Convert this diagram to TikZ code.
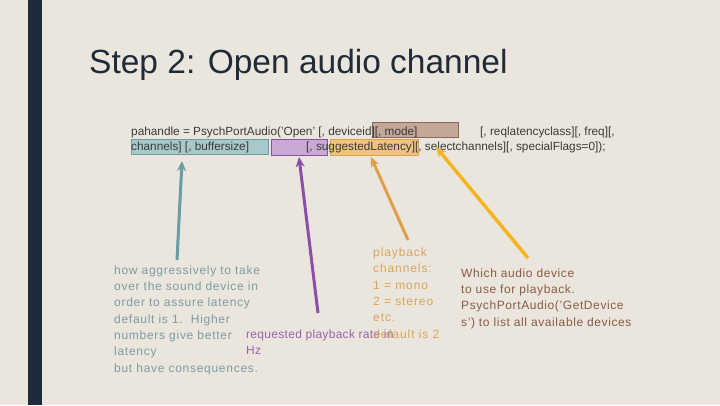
\documentclass[tikz,border=0pt]{standalone}
\usepackage{fontspec}
\setmainfont{Liberation Sans}
\usetikzlibrary{arrows.meta}

\definecolor{slidebg}{HTML}{EAE6DE}
\definecolor{sidebar}{HTML}{1D2B3A}
\definecolor{titleink}{HTML}{1F2B38}
\definecolor{codeink}{HTML}{3A3A3A}
\definecolor{tealfill}{HTML}{A8C8CA}
\definecolor{tealline}{HTML}{6B9CA3}
\definecolor{tealink}{HTML}{7D9C9E}
\definecolor{purpfill}{HTML}{C8AAD4}
\definecolor{purpline}{HTML}{8C4FA8}
\definecolor{purpink}{HTML}{9B62A8}
\definecolor{orngfill}{HTML}{F2C27F}
\definecolor{orngline}{HTML}{E0A048}
\definecolor{orngink}{HTML}{D9A45A}
\definecolor{brwnfill}{HTML}{C3A797}
\definecolor{brwnline}{HTML}{8C6858}
\definecolor{brwnink}{HTML}{8A5A45}
\definecolor{yellarrow}{HTML}{F4B521}

\begin{document}
\begin{tikzpicture}[x=1pt,y=-1pt,
    note/.style={anchor=base west, inner sep=0pt, align=left,
        font=\fontsize{12}{16.3}\selectfont\addfontfeature{LetterSpace=#1}},
    note/.default=6,
    code/.style={anchor=base west, inner sep=0pt, text=codeink,
        font=\fontsize{11.8}{15}\selectfont},
    hl/.style={draw=#1line, fill=#1fill, line width=0.8pt},
    pointer/.style={draw=#1, line width=3pt, -{Stealth[length=10pt,width=9pt]}}]
    \useasboundingbox[fill=slidebg] (0,0) rectangle (720,405);
    \fill[sidebar] (28,0) rectangle (42,405);

    \node[anchor=base west, inner sep=0pt, text=titleink,
        font=\fontsize{33.5}{40}\selectfont] (title) at (89,73) {Step 2: Open audio channel};

    % highlighted arguments
    \draw[hl=teal] (131,139) rectangle (268,154);
    \draw[hl=purp] (271,139) rectangle (327,155);
    \draw[hl=orng] (330,139) rectangle (418,155);
    \draw[hl=brwn] (372,122) rectangle (458,137);

    \node[code] (callA) at (131,135.5) {pahandle = PsychPortAudio('Open' [, deviceid][, mode]};
    \node[code] (callB) at (480,135.5) {[, reqlatencyclass][, freq][,};
    \node[code] (callC) at (131,150.5) {channels] [, buffersize]};
    \node[code] (callD) at (306,150.5) {[, suggestedLatency][, selectchannels][, specialFlags=0]);};

    % notes (anchored on the last line)
    \node[note, text=tealink] (latnote) at (114,372) {how aggressively to take\\over the sound device in\\order to assure latency\\default is 1.~~Higher\\numbers give better\\latency\\but have consequences.};
    \node[note=2.5, text=purpink] (freqnote) at (246,354.5) {requested playback rate in\\Hz};
    \node[note=7.5, text=orngink] (channote) at (373,338) {playback\\channels:\\1 = mono\\2 = stereo\\etc.\\default is 2};
    \node[note=5, text=brwnink] (devnote) at (461,326) {Which audio device\\to use for playback.\\PsychPortAudio('GetDevice\\s') to list all available devices};

    % arrows
    \coordinate (tealtail) at (177,260);
    \coordinate (tealhead) at (182,161);
    \coordinate (purptail) at (318,313);
    \coordinate (purphead) at (299,157);
    \coordinate (orngtail) at (408,240);
    \coordinate (orngtip) at (371,157);
    \coordinate (yelltail) at (528,258);
    \coordinate (yellhead) at (436,147);
    \draw[pointer=tealline] (tealtail) -- (tealhead);
    \draw[pointer=purpline] (purptail) -- (purphead);
    \draw[pointer=orngline] (orngtail) -- (orngtip);
    \draw[pointer=yellarrow, line width=3.5pt] (yelltail) -- (yellhead);
\end{tikzpicture}
\end{document}
